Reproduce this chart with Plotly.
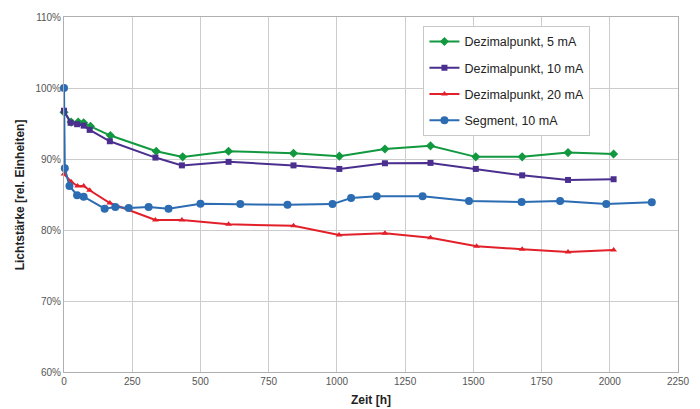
import plotly.graph_objects as go

# Dezimalpunkt, 5 mA
g_x = [0, 26, 52, 72, 97, 170, 338, 435, 603, 841, 1009, 1176, 1343, 1509, 1679, 1847, 2014]
g_y = [96.6, 95.2, 95.2, 95.1, 94.6, 93.3, 91.1, 90.3, 91.1, 90.8, 90.4, 91.4, 91.85, 90.3, 90.3, 90.9, 90.7]

# Dezimalpunkt, 10 mA
p_x = [0, 24, 48, 72, 94, 168, 335, 432, 603, 841, 1009, 1176, 1343, 1509, 1679, 1847, 2014]
p_y = [96.8, 95.1, 94.9, 94.7, 94.1, 92.5, 90.2, 89.1, 89.6, 89.1, 88.6, 89.4, 89.45, 88.6, 87.7, 87.05, 87.15]

# Dezimalpunkt, 20 mA
r_x = [0, 26, 50, 72, 94, 168, 335, 432, 603, 841, 1008, 1176, 1343, 1512, 1679, 1847, 2014]
r_y = [87.9, 86.8, 86.2, 86.2, 85.6, 83.8, 81.4, 81.4, 80.8, 80.6, 79.3, 79.55, 78.9, 77.7, 77.3, 76.9, 77.2]

# Segment, 10 mA
b_x = [0, 3, 20, 48, 72, 149, 188, 237, 310, 383, 500, 646, 819, 984, 1052, 1146, 1314, 1484, 1677, 1818, 1987, 2154]
b_y = [100.0, 88.7, 86.2, 84.9, 84.7, 83.0, 83.25, 83.1, 83.25, 83.0, 83.7, 83.65, 83.55, 83.65, 84.5, 84.75, 84.75, 84.1, 83.95, 84.1, 83.65, 83.9]

x_ticks = [0, 250, 500, 750, 1000, 1250, 1500, 1750, 2000, 2250]
y_ticks = [60, 70, 80, 90, 100, 110]
y_tick_labels = ["60%", "70%", "80%", "90%", "100%", "110%"]

fig = go.Figure()
fig.add_trace(go.Scatter(x=g_x, y=g_y, name="Dezimalpunkt, 5 mA", mode="lines+markers",
                         legendgroup="a", cliponaxis=False,
                         line=dict(color="#12983f", width=2),
                         marker=dict(symbol="diamond", size=7, color="#12983f")))
fig.add_trace(go.Scatter(x=p_x, y=p_y, name="Dezimalpunkt, 10 mA", mode="lines+markers",
                         legendgroup="b", cliponaxis=False,
                         line=dict(color="#4a2f8f", width=2),
                         marker=dict(symbol="square", size=6, color="#4a2f8f")))
fig.add_trace(go.Scatter(x=r_x, y=r_y, name="Dezimalpunkt, 20 mA", mode="lines+markers",
                         legendgroup="c", cliponaxis=False,
                         line=dict(color="#e2202a", width=2),
                         marker=dict(symbol="triangle-up", size=6, color="#e2202a")))
fig.add_trace(go.Scatter(x=b_x, y=b_y, name="Segment, 10 mA", mode="lines+markers",
                         legendgroup="d", cliponaxis=False,
                         line=dict(color="#2b6cb2", width=2),
                         marker=dict(symbol="circle", size=8, color="#2b6cb2")))

fig.update_layout(
    width=700, height=409,
    margin=dict(l=64, r=22, t=17, b=37, autoexpand=False),
    paper_bgcolor="white", plot_bgcolor="white",
    font=dict(family="Liberation Sans, Arial, sans-serif", size=10, color="#555555"),
    showlegend=True,
    legend=dict(x=0.5854, y=0.975, xanchor="left", yanchor="top",
                bgcolor="white", bordercolor="#c8c8c8", borderwidth=1,
                font=dict(size=12.5, color="#222222"),
                tracegroupgap=7, itemwidth=30),
    xaxis=dict(range=[0, 2250], tickvals=x_ticks, showgrid=True, gridcolor="#cccccc",
               gridwidth=1, zeroline=False, showline=True, linecolor="#b0b0b0", mirror=True,
               ticks="", tickfont=dict(size=10, color="#555555"), automargin=False),
    yaxis=dict(range=[60, 110], tickvals=y_ticks, ticktext=y_tick_labels, showgrid=True,
               gridcolor="#cccccc", gridwidth=1, zeroline=False, showline=True,
               linecolor="#b0b0b0", mirror=True, ticks="", tickfont=dict(size=10, color="#555555"),
               automargin=False),
    annotations=[
        dict(text="<b>Zeit [h]</b>", xref="paper", yref="paper", x=0.5, y=-0.08,
             xanchor="center", yanchor="middle", showarrow=False,
             font=dict(size=12, color="#222222")),
        dict(text="<b>Lichtstärke [rel. Einheiten]</b>", xref="paper", yref="paper",
             x=-0.072, y=0.5, xanchor="center", yanchor="middle", textangle=-90,
             showarrow=False, font=dict(size=12, color="#222222")),
    ],
)

fig.write_html("out.html", config={"displayModeBar": False},
               post_script="document.body.style.margin='0';")
